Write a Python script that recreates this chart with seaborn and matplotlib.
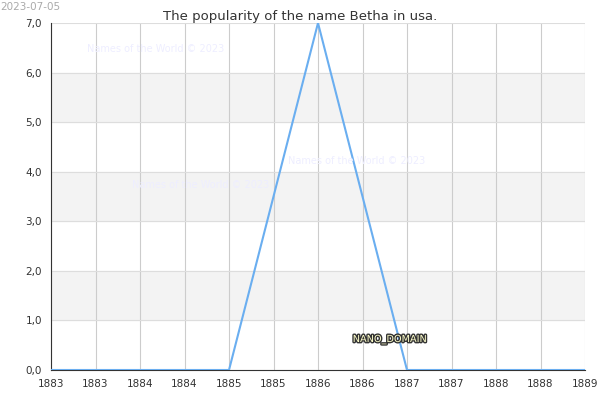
import matplotlib
matplotlib.use("Agg")
import matplotlib.pyplot as plt
import matplotlib.patheffects as pe
import seaborn as sns
import numpy as np

years = [1883, 1884, 1885, 1886, 1887, 1888, 1889]
counts = [0, 0, 0, 7, 0, 0, 0]
ytick_vals = [0, 1, 2, 3, 4, 5, 6, 7]
ytick_labels = ["0,0", "1,0", "2,0", "3,0", "4,0", "5,0", "6,0", "7,0"]
xtick_vals = list(np.arange(1883, 1889.01, 0.5))
xtick_labels = [str(int(v)) for v in xtick_vals]

sns.set_style("white")
fig = plt.figure(figsize=(6, 4), dpi=100)
ax = fig.add_axes([51/600, 30/400, 534/600, 347/400])
for lo in (1, 3, 5):
    ax.axhspan(lo, lo + 1, color="#f3f3f3", zorder=0)
for v in xtick_vals:
    ax.axvline(v, color="#cccccc", lw=0.8, zorder=1)
for v in ytick_vals:
    ax.axhline(v, color="#dddddd", lw=0.8, zorder=1)
sns.lineplot(x=years, y=counts, ax=ax, color="#6aaef0", lw=1.5, zorder=3)
ax.set_xlim(1883, 1889)
ax.set_ylim(0, 7)
ax.set_xticks(xtick_vals)
ax.set_xticklabels(xtick_labels, fontsize=7.5, color="#333333")
ax.set_yticks(ytick_vals)
ax.set_yticklabels(ytick_labels, fontsize=7.5, color="#333333")
ax.tick_params(length=3, color="#333333")
for s in ["top", "right"]:
    ax.spines[s].set_visible(False)
for s in ["left", "bottom"]:
    ax.spines[s].set_color("#333333")
ax.set_xlabel("")
ax.set_ylabel("")
fig.text(0.5, 0.975, "The popularity of the name Betha in usa.", ha="center", va="top", fontsize=9.5, color="#333333")
fig.text(0.0, 0.995, "2023-07-05", ha="left", va="top", fontsize=7.5, color="#aaaaaa")
for (x, y) in [(0.26, 0.87), (0.595, 0.59), (0.335, 0.53)]:
    fig.text(x, y, "Names of the World © 2023", ha="center", fontsize=7, color="#eeeeff")
fig.text(0.65, 0.145, "NANO_DOMAIN", ha="center", fontsize=7, color="#ffffcc",
         path_effects=[pe.withStroke(linewidth=2, foreground="#333333")])
fig.savefig("out.png", dpi=100)
